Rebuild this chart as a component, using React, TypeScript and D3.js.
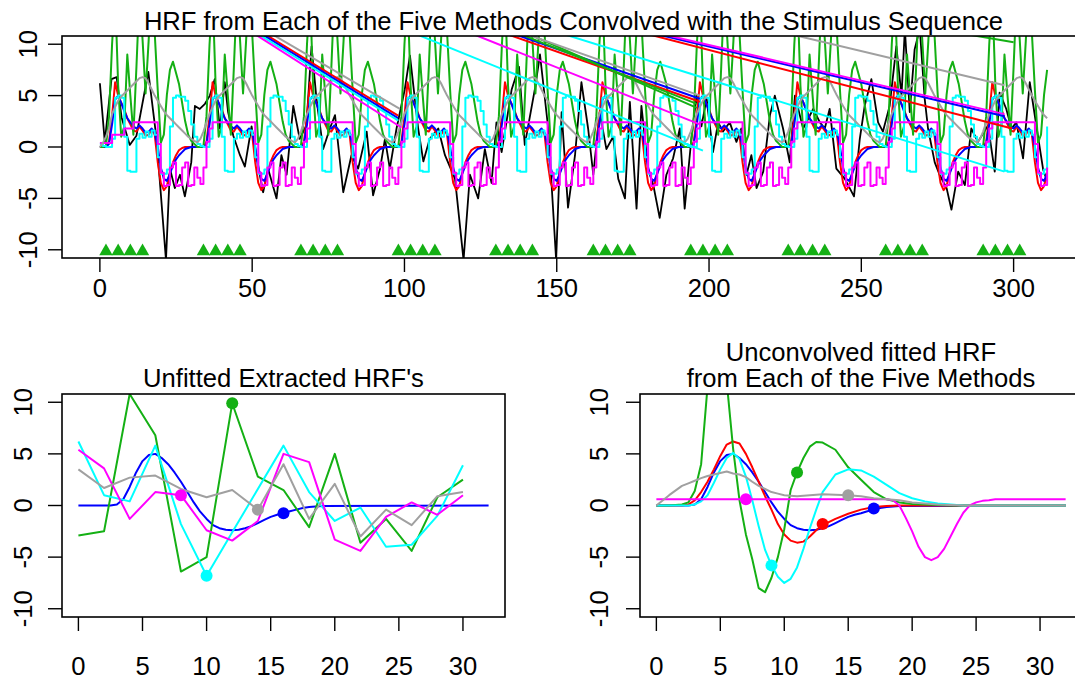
import * as d3 from 'd3'

const W = 1075
const H = 681
const FONT = '"Liberation Sans", Arial, Helvetica, sans-serif'
const FS = 25.6

const RED = '#ff0000'
const BLUE = '#0000ff'
const GREEN = '#14b014'
const CYAN = '#00ffff'
const MAGENTA = '#ff00ff'
const GRAY = '#a0a0a0'

// ---------- top panel: HRFs convolved with the stimulus sequence ----------
// each block is 32 time units long, values read per unit of time inside a block
const blockStarts = [0, 32, 64, 96, 128, 160, 192, 224, 256, 288]
const lastTime = 311
const stimOnsets = [
  2, 6, 10, 14, 34, 38, 42, 46, 66, 70, 74, 78, 98, 102, 106, 110, 130, 134, 138, 142,
  162, 166, 170, 174, 194, 198, 202, 206, 226, 230, 234, 238, 258, 262, 266, 270, 290, 294, 298, 302,
]

const redBlock = [0, 0, 0, 0.5, 3.0, 6.3, 5.0, 4.3, 3.7, 2.8, 2.2, 1.6, 1.5, 2.0, 1.6, 1.1, 1.2, 1.7, 1.2, -1.5, -3.5, -4.2, -3.8, -2.5, -1.5, -0.8, -0.3, -0.1, 0, 0, 0, 0]
const blueBlock = [0, 0, 0, 0.3, 2.2, 4.6, 5.0, 4.3, 3.5, 2.8, 2.4, 2.0, 1.8, 2.1, 1.8, 1.4, 1.5, 1.8, 1.4, 0.0, -2.0, -3.1, -3.3, -2.6, -1.8, -1.2, -0.8, -0.5, -0.2, -0.1, 0, 0]
const greenBlock = [0, 0, 0.1, 3, 10, 15, 6, 1, 2, 9, 5, 1.2, 7.8, 15, 10.5, 5.2, 10.3, 16.2, 11.1, 5.5, 0.4, 1.2, 5.1, 7.5, 8.3, 7.2, 6.1, 4.3, 2.5, 1.2, 0.6, 0.3]
const cyanBlock = [0.3, 0.1, 0, 0, 0.8, 4.8, 5.0, 4.8, 1.0, -2.3, -2.4, -2.4, 0.8, 1.3, 0.9, 1.5, 1.0, 1.6, 1.2, -1.0, -2.6, -2.6, -2.2, 2.0, 4.8, 5.0, 4.9, 4.9, 4.5, 3.5, 2.2, 1.0]
const magentaBlock = [-3.0, -3.6, -2.0, 0.5, 1.8, 2.4, 2.4, 2.4, 2.4, 2.4, 2.4, 2.4, 2.4, 2.4, 2.4, 2.4, 2.4, 2.4, 2.4, 0.3, -2.5, -3.8, -3.7, -2.0, -1.5, -3.8, -3.7, -2.0, -1.5, -3.8, -3.7, -2.0]
const magentaFirst = [0.4, 0.4, 0.4, 0.4, 1.2, 1.2, 1.2, 1.2, 1.8, 1.8, 1.8]
const grayBlock = [0.45, 0.8, 1.5, 2.4, 3.2, 3.9, 4.5, 4.9, 5.2, 5.5, 5.8, 6.1, 6.4, 6.7, 6.8, 6.7, 6.2, 5.6, 5.0, 4.5, 4.0, 3.5, 3.1, 2.8, 2.5, 2.2, 1.9, 1.6, 1.3, 1.0, 0.8, 0.6]
const grayFirst = [0, 0.4, 1.0, 1.8]

// raw data (black)
const blackX = [
  0, 1.6, 3.8, 5.5, 7.1, 9.8, 12, 15.9, 18.6, 21.7, 23, 24.6, 26.3, 27.9, 30, 31.2, 32.8, 34.5, 36.1, 37.7,
  39.4, 41, 42.1, 43.8, 46, 47.6, 49.8, 52.5, 53.6, 55.2, 58, 59.6, 61.3, 63.5, 65.6, 67.8, 69.5, 71.1, 73.3, 75.5,
  77.2, 79.9, 82.6, 84.8, 87.6, 89.7, 92, 93.6, 95.2, 97.4, 100.1, 101.8, 104.5, 106.2, 108.3, 111.1, 113.3, 116.6, 119.4, 121.5,
  124.2, 126.4, 128.6, 130.2, 131.9, 135.2, 137.6, 139.5, 142.8, 144.5, 147.2, 149.8, 151.6, 153.7, 156, 158.1, 160.3, 162, 164.1, 166.3,
  168.5, 170.2, 172.4, 174, 176.2, 177.8, 180, 181.7, 183.8, 186, 188.2, 190.4, 192, 194.2, 195.9, 197.5, 199.2, 201.3, 203, 204.6,
  206.8, 209, 210.6, 212.3, 213.9, 215.6, 217.8, 220, 221.6, 224.3, 226.5, 228.2, 230.9, 234.2, 236.4, 238, 239.6, 241.8, 244.6, 247.6,
  249.5, 251.1, 253.3, 255.5, 257.1, 259.3, 261.5, 263.2, 264.3, 265.9, 267.5, 269.2, 270.8, 271.9, 274.1, 275.7, 278, 279.6, 281.8, 284,
  286.1, 288.3, 291.6, 293.8, 295.4, 297.6, 299.3, 300.9, 303.1, 305.3, 307.5, 309.7, 311,
]
const blackY = [
  6.2, 0.5, 6.6, 6.8, 2.9, 0.2, 1.1, 7.3, 0.8, -11, -2.1, -4, -2.7, -4.8, -1.5, 4.0, 3.7, 4.2, 5.0, 6.6,
  1.8, 6.3, 3.4, 1.1, -0.8, -1.9, 2.0, -2.7, -4.4, -2.1, -5, -0.8, -2.7, 4.0, 0.8, 2.1, 9.8, 4.7, -0.2, 1.8,
  3.1, -4.4, -0.8, -2.1, 1.5, -4.7, -2.1, 0.8, -2.1, 1.8, 5.6, 8.9, 1.8, -1.4, 0.8, 1.8, -0.8, -3.1, -11, -2.7,
  -5, -0.2, -3.5, 2.4, -0.5, 5.6, 7.8, 0.2, 5.6, 9.0, 1.8, -11, 3.4, -5.9, -0.8, 6.3, 1.8, -2.7, 3.4, -0.2,
  1.0, -3.1, -5, 4.4, -6, 4.0, -2.1, -3.7, -6.9, -2.7, -1.1, 1.8, -6, 0.8, 5.0, 2.0, 4.7, -0.5, 2.4, 1.5,
  2.4, 0.5, 1.8, -2.7, -0.8, -4, -2.4, 3.1, 5.0, 1.8, -1.5, 5.0, 1.8, 3.7, 2.4, 1.8, 3.7, -2.1, -3.1, -4.8,
  0.8, 4.0, 6.6, 2.4, 1.5, 4.0, 9.8, 5.0, 11.5, 3.4, 9.5, 11.5, 4.7, 1.8, -1.5, -2.7, -4, -6.1, -2.4, -3.7,
  1.8, 0.5, 2.1, -2.4, 5.3, 3.7, 1.8, 2.4, -1.1, 6.3, 2.0, -2.2, -3.3,
]

// long straight segments that run in from above the plot: [x0, y0, x1, y1]
const redDiag = [[48.6, 12, 97.9, 3.05], [123.9, 12, 197, 4.4], [166.7, 12, 299.5, 1.8]]
const blueDiag = [[47.6, 12, 97.9, 2.8], [126.3, 12, 197, 4.7], [168.1, 12, 297, 3.0]]
const cyanDiag = [[46.5, 12, 98, 2.56], [95.4, 12, 198, -0.35], [141.3, 12, 297, -2.4]]
const magentaDiag = [[45.5, 12, 99, 1.9], [113.9, 12, 197, 2.2], [170, 12, 297, 3.2]]
const grayDiag = [[50.6, 12, 98.5, 3.7], [130.4, 12, 197, 5.0], [212.3, 12, 297, 6.0]]
const greenDiag = [[129.3, 12, 196, 4.2], [133, 12, 196, 3.8], [264, 12, 300, 10.2]]

// ---------- bottom left: unfitted extracted HRFs ----------
const leftX = [0, 2, 4, 6, 8, 10, 12, 14, 16, 18, 20, 22, 24, 26, 28, 30]
const leftGreen = [-2.9, -2.5, 10.8, 6.8, -6.4, -5.0, 9.9, 2.8, 1.5, -2.1, 5.0, -3.6, -1.3, -4.4, 0.8, 2.5]
const leftCyan = [6.2, 1.0, 0.4, 5.8, -1.8, -6.8, -2.6, 1.6, 5.8, 1.3, -1.5, -0.2, -4.0, -3.8, -1.0, 3.9]
const leftMagenta = [5.4, 3.6, -1.3, 1.3, 1.0, -2.4, -3.4, -1.5, 5.0, 4.2, -3.3, -4.4, -1.1, 0.3, -0.9, 1.0]
const leftGray = [3.5, 1.7, 2.7, 2.9, 1.6, 0.8, 1.5, -0.4, 4.0, -1.3, 2.1, -3.0, -0.4, -1.9, 0.9, 1.3]
const leftDotX = [8, 10, 12, 14, 16]
const leftDotY = [1.0, -6.8, 9.9, -0.4, -0.75]
const leftDotColor = [MAGENTA, CYAN, GREEN, GRAY, BLUE]

// true HRF (blue), drawn in both bottom panels
const blueX = [0, 2.5, 3, 3.5, 4, 4.5, 5, 5.5, 6, 6.5, 7, 7.5, 8, 8.5, 9, 9.5, 10, 10.5, 11, 11.5, 12, 12.5, 13, 13.5, 14, 14.5, 15, 15.5, 16, 16.5, 17, 17.5, 18, 19, 32]
const blueY = [0, 0, 0.1, 0.6, 1.8, 3.2, 4.3, 4.9, 5.0, 4.6, 4.0, 3.2, 2.3, 1.3, 0.3, -0.6, -1.3, -1.9, -2.2, -2.35, -2.4, -2.35, -2.2, -2.0, -1.7, -1.4, -1.1, -0.9, -0.75, -0.55, -0.4, -0.25, -0.15, -0.05, 0]

// ---------- bottom right: unconvolved fitted HRFs ----------
const rightX = [0, 1, 2, 2.5, 3, 3.5, 4, 4.5, 5, 5.5, 6, 6.5, 7, 7.5, 8, 8.5, 9, 9.5, 10, 10.5, 11, 11.5, 12, 12.5, 13, 14, 15, 16, 17, 18, 19, 20, 21, 22, 23, 24, 25, 26, 27, 28, 29, 30, 31, 32]
const rightRed = [0, 0, 0, 0.1, 0.5, 1.3, 2.3, 3.5, 4.8, 5.9, 6.2, 6.0, 5.0, 3.7, 2.3, 0.9, -0.4, -1.8, -2.8, -3.4, -3.6, -3.5, -3.0, -2.4, -1.9, -1.3, -0.8, -0.4, -0.15, -0.05, 0, 0, 0, 0, 0, 0, 0, 0, 0, 0, 0, 0, 0, 0]
const rightGreen = [0, 0, 0.1, 0.3, 1.4, 4.0, 11.5, 15, 15.5, 12, 5.5, 0.5, -2.8, -5.2, -8.0, -8.4, -7.0, -5.0, -2.3, 1.5, 3.2, 4.6, 5.7, 6.15, 6.1, 5.4, 3.7, 2.5, 1.3, 0.6, 0.3, 0.15, 0.1, 0.05, 0, 0, 0, 0, 0, 0, 0, 0, 0, 0]
const rightCyan = [0, 0, 0, 0, 0.1, 0.4, 1.0, 2.2, 3.5, 4.6, 5.1, 4.5, 2.8, 0.5, -2.0, -4.3, -5.8, -6.9, -7.5, -7.1, -6.0, -4.2, -2.2, -0.4, 1.3, 3.0, 3.5, 3.4, 2.8, 2.0, 1.2, 0.7, 0.4, 0.2, 0.1, 0, 0, 0, 0, 0, 0, 0, 0, 0]
const rightGray = [0, 1.0, 1.9, 2.15, 2.4, 2.65, 2.85, 3.0, 3.15, 3.3, 3.1, 3.0, 2.75, 2.3, 1.9, 1.6, 1.3, 1.15, 1.0, 0.95, 0.9, 0.95, 1.0, 1.05, 1.1, 1.05, 1.0, 0.9, 0.7, 0.6, 0.5, 0.3, 0.2, 0.1, 0.05, 0, 0, 0, 0, 0, 0, 0, 0, 0]
const magentaX = [0, 18, 18.5, 19, 19.5, 20, 20.5, 21, 21.5, 22, 22.5, 23, 23.5, 24, 24.5, 25, 25.5, 26, 26.5, 32]
const magentaY = [0.6, 0.6, 0.5, 0.0, -1.2, -2.5, -4.0, -5.0, -5.3, -5.0, -4.2, -3.0, -1.8, -0.7, 0.0, 0.3, 0.45, 0.5, 0.6, 0.6]
const rightDotX = [7, 9, 11, 13, 15, 17]
const rightDotY = [0.6, -5.8, 3.2, -1.8, 1.0, -0.3]
const rightDotColor = [MAGENTA, CYAN, GREEN, RED, GRAY, BLUE]

const xTicksTop = [0, 50, 100, 150, 200, 250, 300]
const xTicksHrf = [0, 5, 10, 15, 20, 25, 30]
const yTicks = [-10, -5, 0, 5, 10]

type Pt = [number, number]
const zip = (xs: number[], ys: number[]): Pt[] => xs.map((x, i) => [x, ys[i]] as Pt)

function blockSeries(profile: number[], first?: number[]): Pt[] {
  const pts: Pt[] = []
  blockStarts.forEach((b, k) => {
    profile.forEach((v, t) => {
      const x = b + t
      if (x > lastTime) return
      const y = k === 0 && first && t < first.length ? first[t] : v
      pts.push([x, y])
    })
  })
  return pts
}

// plot boxes (R style, 4% range extension)
const topBox = { left: 62, right: 1085, top: 36, bottom: 258 }
const leftBox = { left: 62, right: 505, top: 394, bottom: 617 }
const rightBox = { left: 640, right: 1082, top: 394, bottom: 617 }

const topX = d3.scaleLinear().domain([-12.44, 323.44]).range([topBox.left, topBox.right])
const topY = d3.scaleLinear().domain([-10.8, 10.8]).range([topBox.bottom, topBox.top])
const leftXS = d3.scaleLinear().domain([-1.28, 33.28]).range([leftBox.left, leftBox.right])
const rightXS = d3.scaleLinear().domain([-1.28, 33.28]).range([rightBox.left, rightBox.right])
const hrfY = d3.scaleLinear().domain([-10.8, 10.8]).range([leftBox.bottom, leftBox.top])

type Box = typeof topBox

function Frame({ box, sx, sy, xTicks, xLabelBase, yLabelX, tickLen }: {
  box: Box; sx: d3.ScaleLinear<number, number>; sy: d3.ScaleLinear<number, number>
  xTicks: number[]; xLabelBase: number; yLabelX: number; tickLen: number
}) {
  return (
    <g>
      <rect x={box.left} y={box.top} width={box.right - box.left} height={box.bottom - box.top}
        fill="none" stroke="#000" strokeWidth={1.6} />
      {xTicks.map(t => (
        <g key={'x' + t}>
          <line x1={sx(t)} x2={sx(t)} y1={box.bottom} y2={box.bottom + tickLen} stroke="#000" strokeWidth={1.4} />
          <text x={sx(t)} y={xLabelBase} textAnchor="middle" fontSize={FS}>{t}</text>
        </g>
      ))}
      {yTicks.map(t => (
        <g key={'y' + t}>
          <line x1={box.left} x2={box.left - tickLen} y1={sy(t)} y2={sy(t)} stroke="#000" strokeWidth={1.4} />
          <text transform={`translate(${yLabelX},${sy(t)}) rotate(-90)`} textAnchor="middle" fontSize={FS}>{t}</text>
        </g>
      ))}
    </g>
  )
}

export default function App() {
  const stepTop = d3.line<Pt>().x(d => topX(d[0])).y(d => topY(d[1])).curve(d3.curveStepAfter)
  const linTop = d3.line<Pt>().x(d => topX(d[0])).y(d => topY(d[1]))
  const linLeft = d3.line<Pt>().x(d => leftXS(d[0])).y(d => hrfY(d[1]))
  const linRight = d3.line<Pt>().x(d => rightXS(d[0])).y(d => hrfY(d[1]))
  const tri = d3.symbol().type(d3.symbolTriangle).size(78)() || ''

  // [points, colour, drawn as steps]
  const topSeries: [Pt[], string, boolean][] = [
    [blockSeries(redBlock), RED, false],
    [blockSeries(blueBlock), BLUE, false],
    [blockSeries(greenBlock), GREEN, false],
    [blockSeries(cyanBlock), CYAN, true],
    [blockSeries(magentaBlock, magentaFirst), MAGENTA, true],
    [blockSeries(grayBlock, grayFirst), GRAY, false],
  ]
  const diags: [number[][], string][] = [
    [redDiag, RED], [blueDiag, BLUE], [greenDiag, GREEN], [cyanDiag, CYAN], [magentaDiag, MAGENTA], [grayDiag, GRAY],
  ]

  const leftSeries: [Pt[], string][] = [
    [zip(blueX, blueY), BLUE],
    [zip(leftX, leftGreen), GREEN],
    [zip(leftX, leftCyan), CYAN],
    [zip(leftX, leftMagenta), MAGENTA],
    [zip(leftX, leftGray), GRAY],
  ]
  const rightSeries: [Pt[], string][] = [
    [zip(blueX, blueY), BLUE],
    [zip(rightX, rightRed), RED],
    [zip(rightX, rightGreen), GREEN],
    [zip(rightX, rightCyan), CYAN],
    [zip(magentaX, magentaY), MAGENTA],
    [zip(rightX, rightGray), GRAY],
  ]

  const clipRect = (id: string, b: Box) => (
    <clipPath id={id}>
      <rect x={b.left} y={b.top} width={b.right - b.left} height={b.bottom - b.top} />
    </clipPath>
  )

  return (
    <svg width={W} height={H} style={{ position: 'absolute', left: 0, top: 0, background: '#fff' }}
      fontFamily={FONT} fill="#000">
      <defs>
        {clipRect('clipTop', topBox)}
        {clipRect('clipLeft', leftBox)}
        {clipRect('clipRight', rightBox)}
      </defs>

      {/* top panel */}
      <text x={(topBox.left + topBox.right) / 2} y={30} textAnchor="middle" fontSize={FS}>
        HRF from Each of the Five Methods Convolved with the Stimulus Sequence
      </text>
      <g clipPath="url(#clipTop)" fill="none" strokeLinejoin="round">
        <path d={linTop(zip(blackX, blackY)) || ''} stroke="#000" strokeWidth={1.8} />
        {topSeries.map(([pts, c, step], i) => (
          <path key={'s' + i} d={(step ? stepTop : linTop)(pts) || ''} stroke={c} strokeWidth={2} />
        ))}
        {diags.map(([segs, c], i) => segs.map((s, j) => (
          <path key={'d' + i + '-' + j} d={linTop([[s[0], s[1]], [s[2], s[3]]]) || ''} stroke={c} strokeWidth={2} />
        )))}
        {stimOnsets.map((o, i) => (
          <path key={'t' + i} d={tri} transform={`translate(${topX(o)},${topY(-10) + 1.5})`} fill={GREEN} stroke="none" />
        ))}
      </g>
      <Frame box={topBox} sx={topX} sy={topY} xTicks={xTicksTop} xLabelBase={297} yLabelX={37} tickLen={14} />

      {/* bottom left */}
      <text x={(leftBox.left + leftBox.right) / 2} y={386.5} textAnchor="middle" fontSize={FS}>Unfitted Extracted HRF's</text>
      <g clipPath="url(#clipLeft)" fill="none" strokeLinejoin="round">
        {leftSeries.map(([pts, c], i) => (
          <path key={'l' + i} d={linLeft(pts) || ''} stroke={c} strokeWidth={2} />
        ))}
        {leftDotX.map((x, i) => (
          <circle key={'ld' + i} cx={leftXS(x)} cy={hrfY(leftDotY[i])} r={6} fill={leftDotColor[i]} stroke="none" />
        ))}
      </g>
      <Frame box={leftBox} sx={leftXS} sy={hrfY} xTicks={xTicksHrf} xLabelBase={675} yLabelX={32} tickLen={14} />

      {/* bottom right */}
      <text x={(rightBox.left + rightBox.right) / 2} y={361} textAnchor="middle" fontSize={FS}>Unconvolved fitted HRF</text>
      <text x={(rightBox.left + rightBox.right) / 2} y={386.5} textAnchor="middle" fontSize={FS}>from Each of the Five Methods</text>
      <g clipPath="url(#clipRight)" fill="none" strokeLinejoin="round">
        {rightSeries.map(([pts, c], i) => (
          <path key={'r' + i} d={linRight(pts) || ''} stroke={c} strokeWidth={2} />
        ))}
        {rightDotX.map((x, i) => (
          <circle key={'rd' + i} cx={rightXS(x)} cy={hrfY(rightDotY[i])} r={6} fill={rightDotColor[i]} stroke="none" />
        ))}
      </g>
      <Frame box={rightBox} sx={rightXS} sy={hrfY} xTicks={xTicksHrf} xLabelBase={675} yLabelX={608} tickLen={14} />
    </svg>
  )
}
